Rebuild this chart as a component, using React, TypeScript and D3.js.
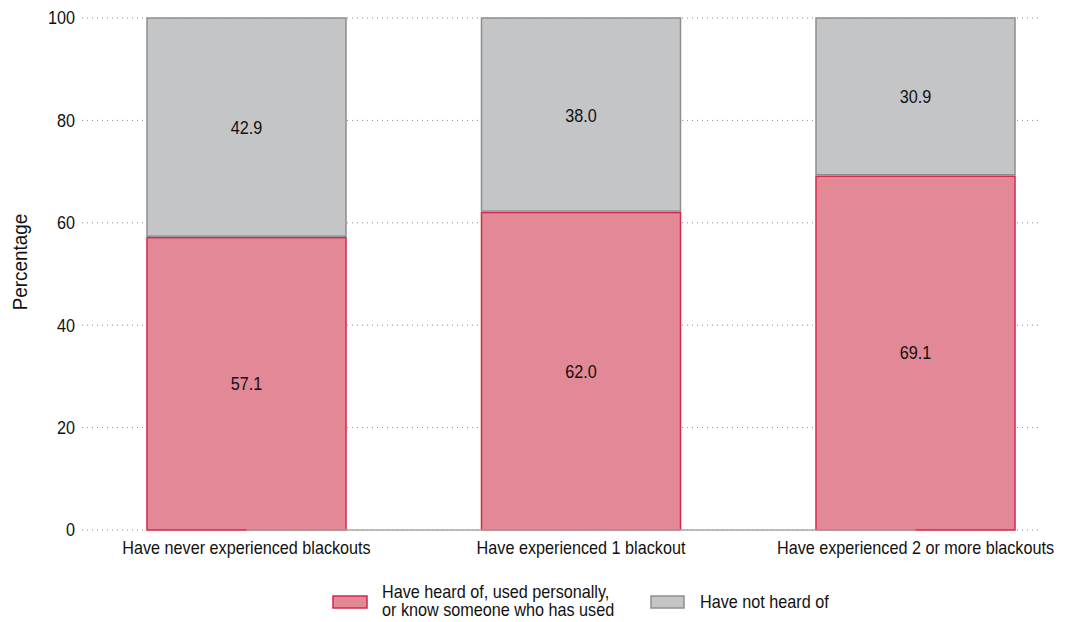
import React from "react";
import * as d3 from "d3";

const categories = [
  "Have never experienced blackouts",
  "Have experienced 1 blackout",
  "Have experienced 2 or more blackouts",
];
const heardValues = [57.1, 62.0, 69.1];
const notHeardValues = [42.9, 38.0, 30.9];
const yTicks = [0, 20, 40, 60, 80, 100];
const seriesNames = [
  ["Have heard of, used personally,", "or know someone who has used"],
  ["Have not heard of"],
];

const W = 1070;
const H = 622;
const FONT = "'Liberation Sans', Arial, sans-serif";
const RED_FILL = "#E38896";
const RED_STROKE = "#D4294A";
const GREY_FILL = "#C4C5C7";
const GREY_STROKE = "#8E8E8E";
const SX = 0.9;

function T(props: {
  x: number;
  y: number;
  anchor?: "start" | "middle" | "end";
  size?: number;
  rotate?: number;
  children: React.ReactNode;
}) {
  const { x, y, anchor = "start", size = 18, rotate = 0, children } = props;
  return (
    <text
      transform={`translate(${x},${y}) rotate(${rotate}) scale(${SX},1)`}
      textAnchor={anchor}
      fontSize={size}
      fill="#111"
      dy="0.35em"
    >
      {children}
    </text>
  );
}

export default function App() {
  const plotLeft = 82;
  const plotRight = 1040;
  const y = d3.scaleLinear().domain([0, 100]).range([530, 18]);
  const x = d3
    .scaleBand<string>()
    .domain(categories)
    .range([79.25, 1082.75])
    .paddingInner(0.405)
    .paddingOuter(0.2025);
  const bw = x.bandwidth();
  const first = x(categories[0])! + bw / 2;
  const last = x(categories[categories.length - 1])! + bw / 2;

  return (
    <svg width={W} height={H} style={{ position: "absolute", left: 0, top: 0 }} fontFamily={FONT}>
      <rect width={W} height={H} fill="#fff" />
      {yTicks.map((t) => (
        <g key={t}>
          <line
            x1={plotLeft}
            x2={plotRight}
            y1={y(t)}
            y2={y(t)}
            stroke="#8a8a8a"
            strokeWidth={1}
            strokeDasharray="1,4"
          />
          <T x={75} y={y(t)} anchor="end" size={18}>
            {t}
          </T>
        </g>
      ))}
      <T x={20} y={262} anchor="middle" size={21} rotate={-90}>
        Percentage
      </T>
      {categories.map((c, i) => {
        const x0 = x(c)!;
        const h1 = heardValues[i];
        const h2 = notHeardValues[i];
        return (
          <g key={c}>
            <rect
              x={x0}
              y={y(h1)}
              width={bw}
              height={y(0) - y(h1)}
              fill={RED_FILL}
              stroke={RED_STROKE}
              strokeWidth={1.5}
            />
            <rect
              x={x0}
              y={y(h1 + h2)}
              width={bw}
              height={y(h1) - y(h1 + h2) - 1.5}
              fill={GREY_FILL}
              stroke={GREY_STROKE}
              strokeWidth={1.5}
            />
            <T x={x0 + bw / 2} y={y(h1 / 2)} anchor="middle">
              {h1.toFixed(1)}
            </T>
            <T x={x0 + bw / 2} y={y(h1 + h2 / 2)} anchor="middle">
              {h2.toFixed(1)}
            </T>
            <T x={x0 + bw / 2} y={548} anchor="middle">
              {c}
            </T>
          </g>
        );
      })}
      <line x1={first} x2={last} y1={y(0)} y2={y(0)} stroke="#a8a8a8" strokeWidth={1.5} />
      {/* legend */}
      <rect x={333} y={596} width={34} height={12} fill={RED_FILL} stroke={RED_STROKE} strokeWidth={1.5} />
      <T x={382} y={592}>{seriesNames[0][0]}</T>
      <T x={382} y={610}>{seriesNames[0][1]}</T>
      <rect x={651} y={596} width={33} height={12} fill={GREY_FILL} stroke={GREY_STROKE} strokeWidth={1.5} />
      <T x={700} y={602}>{seriesNames[1][0]}</T>
    </svg>
  );
}
